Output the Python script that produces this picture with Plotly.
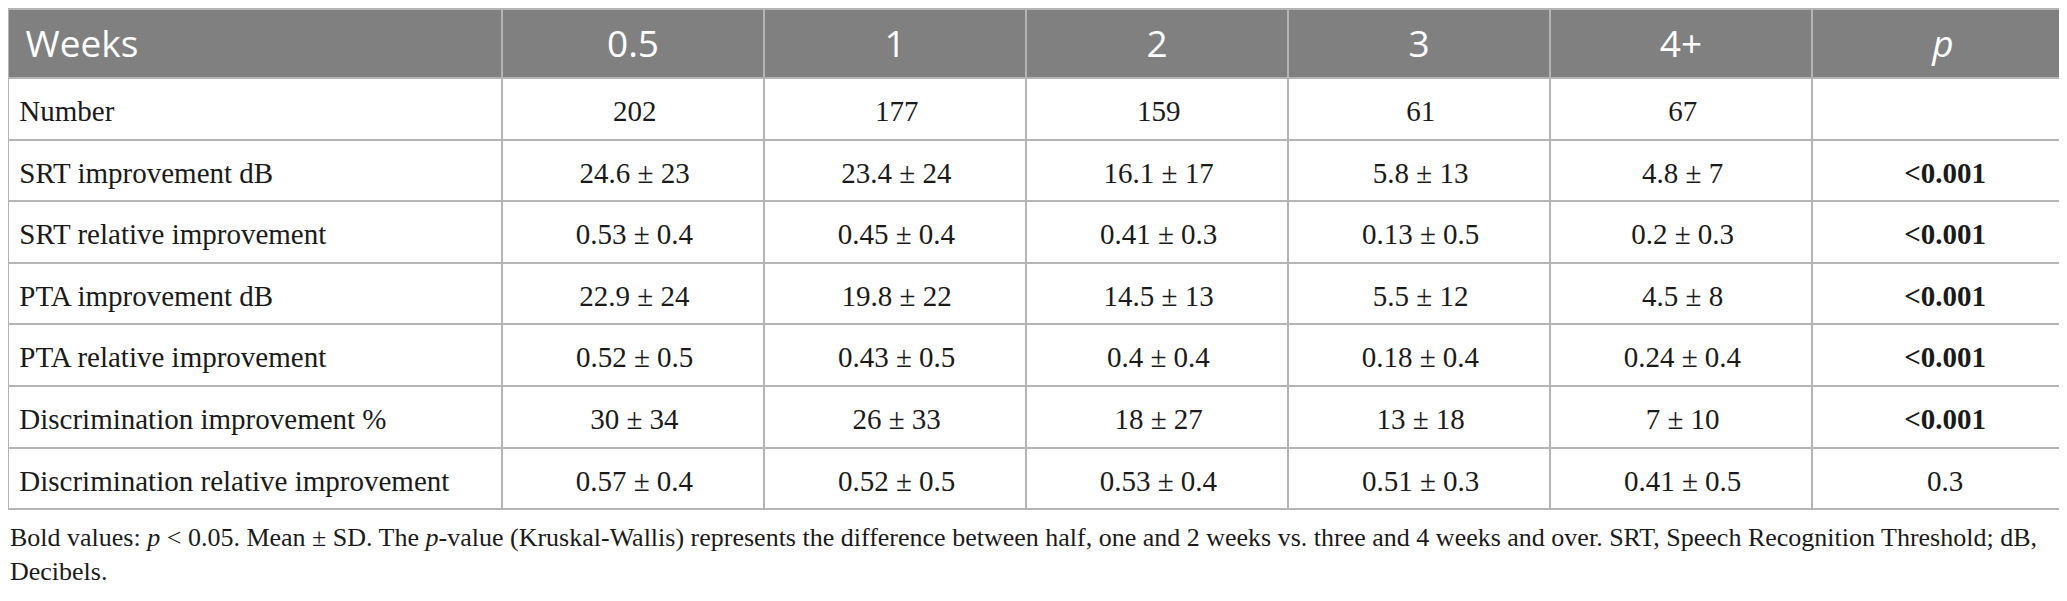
import plotly.graph_objects as go

W, H = 2067, 601

weeks = ["0.5", "1", "2", "3", "4+"]
row_labels = [
    "Number",
    "SRT improvement dB",
    "SRT relative improvement",
    "PTA improvement dB",
    "PTA relative improvement",
    "Discrimination improvement %",
    "Discrimination relative improvement",
]
col_05 = ["202", "24.6 ± 23", "0.53 ± 0.4", "22.9 ± 24", "0.52 ± 0.5", "30 ± 34", "0.57 ± 0.4"]
col_1 = ["177", "23.4 ± 24", "0.45 ± 0.4", "19.8 ± 22", "0.43 ± 0.5", "26 ± 33", "0.52 ± 0.5"]
col_2 = ["159", "16.1 ± 17", "0.41 ± 0.3", "14.5 ± 13", "0.4 ± 0.4", "18 ± 27", "0.53 ± 0.4"]
col_3 = ["61", "5.8 ± 13", "0.13 ± 0.5", "5.5 ± 12", "0.18 ± 0.4", "13 ± 18", "0.51 ± 0.3"]
col_4p = ["67", "4.8 ± 7", "0.2 ± 0.3", "4.5 ± 8", "0.24 ± 0.4", "7 ± 10", "0.41 ± 0.5"]
p_values = ["", "<0.001", "<0.001", "<0.001", "<0.001", "<0.001", "0.3"]
p_bold = [False, True, True, True, True, True, False]

footnote = ("Bold values: <i>p</i> < 0.05. Mean ± SD. The <i>p</i>-value (Kruskal-Wallis) represents the "
            "difference between half, one and 2 weeks vs. three and 4 weeks and over. SRT, Speech Recognition "
            "Threshold; dB,<br>Decibels.")

# plotly puts the top of a cell text's box a fixed pad below the cell top;
# a tall invisible hair space raises that box so the visible text sits centred.
STRUT_SIZE = 39


def body_cell(v):
    return f'<span style="font-size:{STRUT_SIZE}px">\u200a</span>{v}<br>'


def head_cell(v, lead=""):
    return f"{lead}{v}<br>"


p_cells = [f"<b>{v}</b>" if b else v for v, b in zip(p_values, p_bold)]
header_vals = ["Weeks"] + weeks + ["<i>p</i>"]
header_cells = [head_cell(v, "\u00a0" if i == 0 else "") for i, v in enumerate(header_vals)]

body_cols = [row_labels, col_05, col_1, col_2, col_3, col_4p, p_cells]
body_cells = [[body_cell(v) for v in col] for col in body_cols]

line_col = "#b4b4b4"

fig = go.Figure(go.Table(
    columnwidth=[494, 262, 262, 262, 262, 262, 263],
    header=dict(
        values=header_cells,
        fill_color="#808080",
        line_color=line_col,
        line_width=2,
        font=dict(family="Open Sans", size=37, color="white"),
        align=["left"] + ["center"] * 6,
        height=69,
    ),
    cells=dict(
        values=body_cells,
        fill_color="white",
        line_color=line_col,
        line_width=2,
        font=dict(family="Liberation Serif", size=29, color="#1a1a1a"),
        align=["left"] + ["center"] * 6,
        height=61.6,
    ),
    domain=dict(x=[0, 1], y=[(H - 520) / H, 1 - 1 / H]),
))

fig.add_annotation(
    text=footnote, xref="paper", yref="paper", x=0, y=1 - 513 / H,
    xanchor="left", yanchor="top", align="left", showarrow=False,
    font=dict(family="Liberation Serif", size=26, color="#1a1a1a"),
)

fig.update_layout(
    width=W, height=H, margin=dict(l=0, r=0, t=0, b=0),
    paper_bgcolor="white", plot_bgcolor="white",
)

fig.write_html("out.html")
